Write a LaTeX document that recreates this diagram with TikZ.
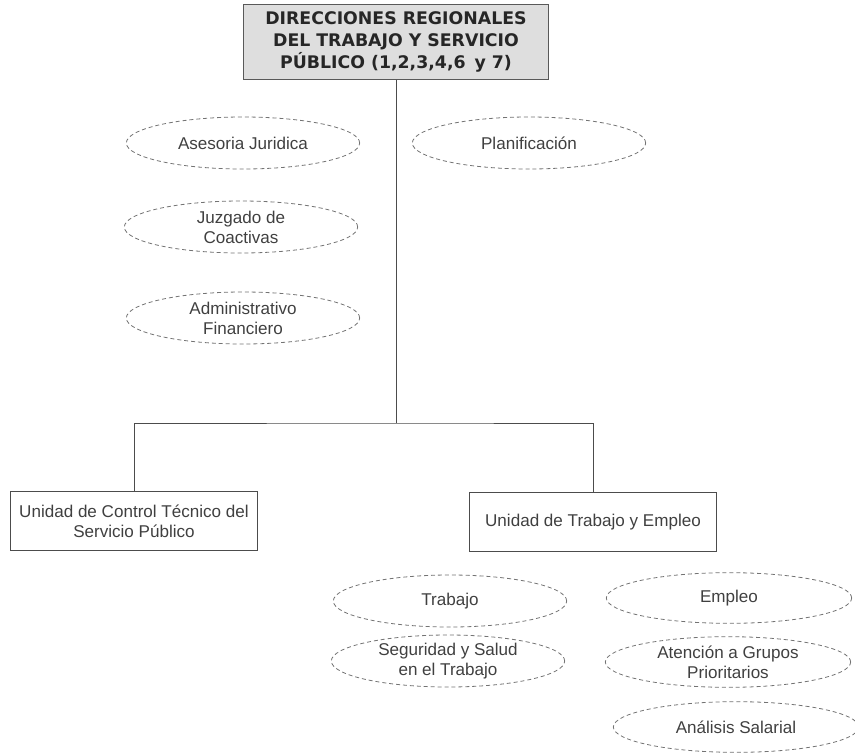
\documentclass[tikz,border=0pt]{standalone}
\usepackage{fontspec}
\setmainfont{Liberation Sans}
\newfontfamily\headfont{DejaVu Sans}
\usepackage{tikz}
\usetikzlibrary{shapes.geometric}

\begin{document}
\begin{tikzpicture}[x=0.75pt ,y=-0.75pt ,semithick ,
		jefe/.style ={ rectangle ,draw=black!65 ,fill=black!13 ,text=black!85 ,
			align=center ,minimum width =229pt ,minimum height =56pt ,inner sep=0pt ,
			font=\headfont\bfseries\fontsize{13}{16.2}\selectfont},
		unidad/.style ={ rectangle ,draw=black!70 ,text=black!75 ,align=center ,
			minimum width =185pt ,minimum height =44pt ,inner sep=0pt ,
			font=\fontsize{12.8}{15}\selectfont},
		apoyo/.style ={ ellipse ,draw=black!55 ,dash pattern=on 3pt off 2.2pt ,
			text=black!75 ,align=center ,minimum width =175pt ,minimum height =39pt ,
			inner sep=0pt ,font=\fontsize{12.8}{15}\selectfont},
		proceso/.style ={ apoyo ,minimum width =184pt ,minimum height =38pt}]
		\useasboundingbox (0,0) rectangle (855,753);
		\node[jefe] (dir) at (396,42) {DIRECCIONES REGIONALES\\DEL TRABAJO Y SERVICIO\\P\'UBLICO (1,2,3,4,6 \,y 7)};
		% asesoria y apoyo
		\node[apoyo] (ase) at (243,143) {Asesoria Juridica};
		\node[apoyo] (plan) at (529,143) {Planificaci\'on};
		\node[apoyo] (juz) at (241,227) {Juzgado de\\Coactivas};
		\node[apoyo] (adm) at (243,318) {Administrativo\\Financiero};
		% unidades
		\node[unidad] (uct) at (134,521) {Unidad de Control T\'ecnico del\\Servicio P\'ublico};
		\node[unidad] (ute) at (593,522) {Unidad de Trabajo y Empleo};
		% procesos
		\node[apoyo] (trab) at (450,601) {Trabajo};
		\node[apoyo] (seg) at (448,661) {Seguridad y Salud\\en el Trabajo};
		\node[proceso] (emp) at (729,598) {Empleo};
		\node[proceso] (aten) at (728,662) {Atenci\'on a Grupos\\Prioritarios};
		\node[proceso] (anal) at (736,727) {An\'alisis Salarial};
		\coordinate (bus) at (dir.south |- 0,423);
		\draw[black!70] (dir.south) -- (bus); % direccion a barra
		\draw[black!70] (uct.north) |- (bus) -| (ute.north); % barra a unidades
\end{tikzpicture}
\end{document}
